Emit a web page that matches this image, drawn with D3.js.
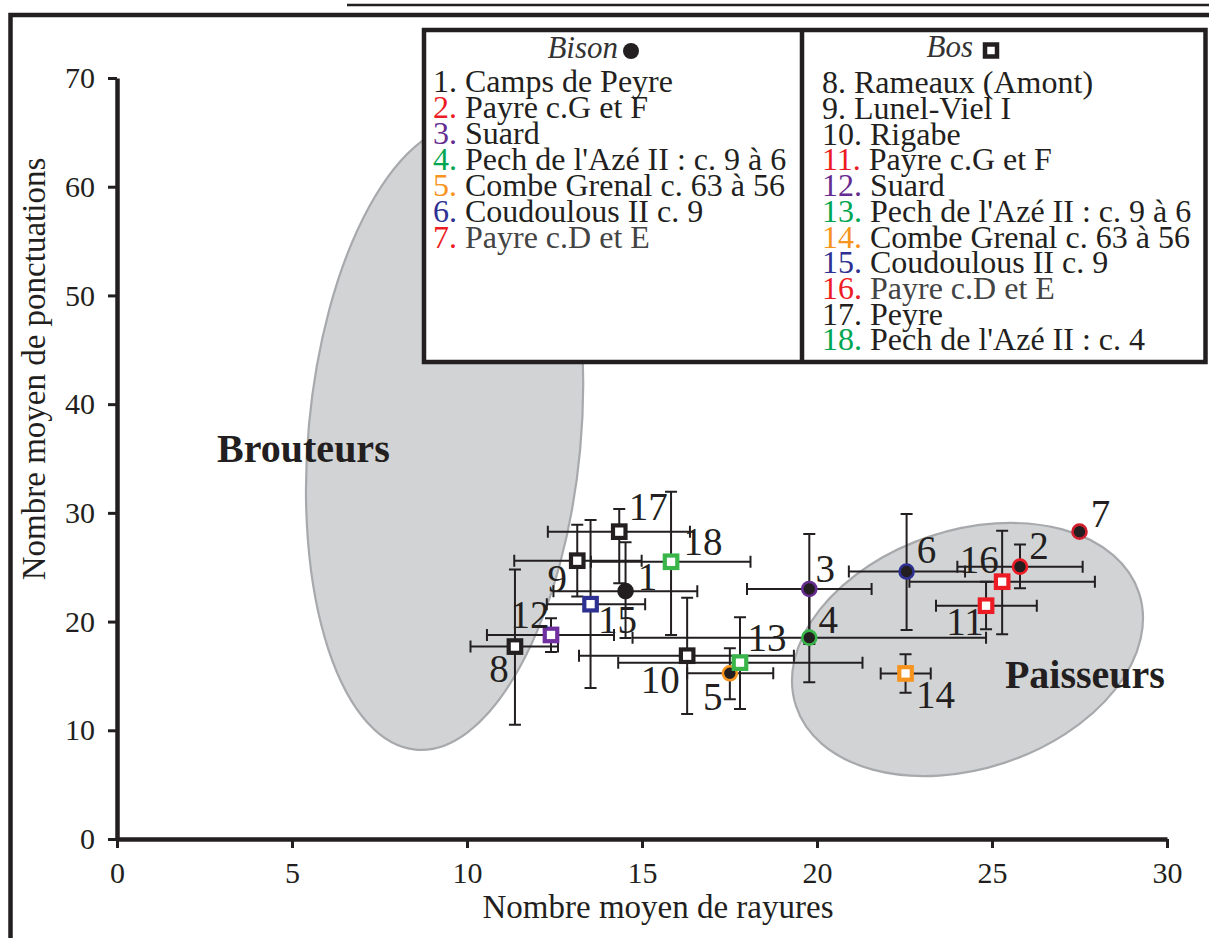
<!DOCTYPE html>
<html><head><meta charset="utf-8">
<script src="https://cdn.jsdelivr.net/npm/d3@7"></script>
<style>
body{margin:0;background:#fff;}
svg{display:block;}
text{font-family:"Liberation Serif","Times New Roman",serif;}
</style>
</head><body>
<svg id="chart" width="1209" height="938"></svg>
<script>
// ---------- DATA ----------
const ids   = [1,2,3,4,5,6,7,8,9,10,11,12,13,14,15,16,17,18];
const taxon = ["bison","bison","bison","bison","bison","bison","bison",
               "bos","bos","bos","bos","bos","bos","bos","bos","bos","bos","bos"];
const sites = ["Camps de Peyre","Payre c.G et F","Suard","Pech de l'Azé II : c. 9 à 6",
               "Combe Grenal c. 63 à 56","Coudoulous II c. 9","Payre c.D et E",
               "Rameaux (Amont)","Lunel-Viel I","Rigabe","Payre c.G et F","Suard",
               "Pech de l'Azé II : c. 9 à 6","Combe Grenal c. 63 à 56","Coudoulous II c. 9",
               "Payre c.D et E","Peyre","Pech de l'Azé II : c. 4"];
// mean number of scratches (x) and pits (y)
const meanRayures      = [14.53,25.80,19.78,19.78,17.51,22.56,27.50,11.37,13.15,16.29,24.83,12.40,17.80,22.53,13.53,25.29,14.35,15.83];
const meanPonctuations = [22.80,25.05,23.00,18.52,15.24,24.60,28.27,17.70,25.60,16.86,21.46,18.77,16.22,15.23,21.60,23.67,28.27,25.50];
// error bar extents
const rayuresLow   = [12.47,24.01,18.00,14.73,16.29,20.91,null,10.10,11.35,13.20,23.40,10.57,14.32,21.82,12.28,22.64,12.31,13.54];
const rayuresHigh  = [16.58,27.59,21.56,24.83,18.75,24.23,null,12.60,14.99,19.34,26.28,14.20,21.30,23.25,15.09,27.94,16.37,18.10];
const ponctLow     = [18.50,23.06,17.94,14.42,12.85,19.23,null,10.50,22.30,11.50,19.29,17.20,11.96,13.46,13.90,18.83,23.52,18.77];
const ponctHigh    = [27.30,27.10,28.06,22.62,17.55,29.90,null,24.80,28.90,22.20,23.67,20.30,20.40,17.00,29.35,28.36,30.36,31.95];
const xTicks = [0,5,10,15,20,25,30];
const yTicks = [0,10,20,30,40,50,60,70];
// diet zones (centre in data units, semi-axes in data units, rotation in degrees)
const zoneNames = ["Brouteurs","Paisseurs"];
const zoneCx  = [9.36, 24.30];
const zoneCy  = [37.00, 17.43];
const zoneRx  = [3.89, 5.16];
const zoneRy  = [28.90, 10.96];
const zoneRot = [5.28, -18.3];
const zoneLabelX = [2.86, 25.37];
const zoneLabelY = [34.68, 13.90];

// ---------- STYLE / LAYOUT ----------
const markerColor = ["#231f20","#ed1c24","#662d91","#39b54a","#f7941d","#2e3192","#d0202e",
                     "#231f20","#231f20","#231f20","#ed1c24","#7030a0","#39b54a","#f7941d","#2e3192","#ed1c24","#231f20","#39b54a"];
const legendNumColor = ["#231f20","#ed1c24","#662d91","#00a651","#f7941d","#2e3192","#ed1c24",
                     "#231f20","#231f20","#231f20","#ed1c24","#662d91","#00a651","#f7941d","#2e3192","#ed1c24","#231f20","#00a651"];
const nameColor = id => (id===7||id===16) ? "#444" : "#231f20";
// label offsets in px (centre x, baseline y) relative to marker
const labelDx = [22,19,16,19,-17,20,21,-16,-20,-27,-21,-21,27,30,27,-23,29,32];
const labelDy = [-1,-8,-7,-4.5,37,-8.5,-5,35,31,37.5,29,-7,-11.5,35,29,-8.5,-12,-7];

const ink = "#231f20";
const svg = d3.select("#chart");
const x = d3.scaleLinear().domain([0,30]).range([117,1167]);
const y = d3.scaleLinear().domain([0,70]).range([839,78]);

// outer frame
svg.append("path").attr("d","M10.5,938 V15 H1209").attr("fill","none").attr("stroke",ink).attr("stroke-width",4.5);
svg.append("line").attr("x1",347).attr("x2",1209).attr("y1",5).attr("y2",5).attr("stroke",ink).attr("stroke-width",2.5);

// zones
zoneNames.forEach((n,i)=>{
  const cx = x(zoneCx[i]), cy = y(zoneCy[i]);
  svg.append("ellipse")
    .attr("cx",cx).attr("cy",cy)
    .attr("rx",x(zoneCx[i]+zoneRx[i])-cx)
    .attr("ry",cy-y(zoneCy[i]+zoneRy[i]))
    .attr("transform",`rotate(${zoneRot[i]},${cx},${cy})`)
    .attr("fill","#d1d3d4").attr("stroke","#a7a9ac").attr("stroke-width",2.2);
  svg.append("text").attr("x",x(zoneLabelX[i])).attr("y",y(zoneLabelY[i]))
    .attr("font-size",40).attr("font-weight","bold").attr("fill",ink).text(n);
});

// axes
const ya = svg.append("g").attr("transform",`translate(${x(0)},0)`)
  .call(d3.axisLeft(y).tickValues(yTicks).tickSize(9).tickSizeOuter(0).tickPadding(13));
const xa = svg.append("g").attr("transform",`translate(0,${y(0)})`)
  .call(d3.axisBottom(x).tickValues(xTicks).tickSize(9).tickSizeOuter(0).tickPadding(14));
[ya,xa].forEach(g=>{
  g.select(".domain").attr("stroke",ink).attr("stroke-width",4.5);
  g.selectAll(".tick line").attr("stroke",ink).attr("stroke-width",3);
  g.selectAll(".tick text").attr("font-family","Liberation Serif, serif").attr("font-size",30).attr("fill",ink);
});
svg.append("text").attr("x",658).attr("y",918).attr("text-anchor","middle")
  .attr("font-size",33).attr("fill",ink).text("Nombre moyen de rayures");
svg.append("text").attr("transform","translate(45,369) rotate(-90)").attr("text-anchor","middle")
  .attr("font-size",33).attr("fill",ink).text("Nombre moyen de ponctuations");

// error bars
const eb = svg.append("g").attr("stroke",ink).attr("stroke-width",2).attr("fill","none");
const cap = 6;
ids.forEach((id,i)=>{
  if (rayuresLow[i]===null) return;
  const px = x(meanRayures[i]), py = y(meanPonctuations[i]);
  const x0 = x(rayuresLow[i]), x1 = x(rayuresHigh[i]);
  const y0 = y(ponctLow[i]), y1 = y(ponctHigh[i]);
  eb.append("path").attr("d",
    `M${x0},${py}H${x1}M${x0},${py-cap}V${py+cap}M${x1},${py-cap}V${py+cap}` +
    `M${px},${y0}V${y1}M${px-cap},${y0}H${px+cap}M${px-cap},${y1}H${px+cap}`);
});

// markers
ids.forEach((id,i)=>{
  const px = x(meanRayures[i]), py = y(meanPonctuations[i]);
  if (taxon[i]==="bison") {
    svg.append("circle").attr("cx",px).attr("cy",py).attr("r",7)
      .attr("fill",ink).attr("stroke",markerColor[i]).attr("stroke-width",2.6);
  } else {
    const s = 12.5;
    svg.append("rect").attr("x",px-s/2).attr("y",py-s/2).attr("width",s).attr("height",s)
      .attr("fill","#fff").attr("stroke",markerColor[i]).attr("stroke-width",4.2);
  }
});

// point labels
ids.forEach((id,i)=>{
  svg.append("text").attr("x",x(meanRayures[i])+labelDx[i]).attr("y",y(meanPonctuations[i])+labelDy[i])
    .attr("text-anchor","middle").attr("font-size",39).attr("fill",ink).text(id);
});

// legend
const lg = svg.append("g");
lg.append("rect").attr("x",424).attr("y",30).attr("width",781.5).attr("height",332)
  .attr("fill","#fff").attr("stroke",ink).attr("stroke-width",4.5);
lg.append("line").attr("x1",802).attr("x2",802).attr("y1",30).attr("y2",362).attr("stroke",ink).attr("stroke-width",4.5);
lg.append("text").attr("x",618).attr("y",58).attr("text-anchor","end").attr("font-size",31)
  .attr("font-style","italic").attr("fill","#333").text("Bison");
lg.append("circle").attr("cx",631).attr("cy",51).attr("r",8).attr("fill",ink);
lg.append("text").attr("x",973).attr("y",57).attr("text-anchor","end").attr("font-size",31)
  .attr("font-style","italic").attr("fill","#333").text("Bos");
lg.append("rect").attr("x",985).attr("y",44.5).attr("width",12).attr("height",12)
  .attr("fill","#fff").attr("stroke",ink).attr("stroke-width",4.5);

let bi = 0, oi = 0;
ids.forEach((id,i)=>{
  let tx, ty;
  if (taxon[i]==="bison") { tx = 433; ty = 91.7 + bi*26.1; bi++; }
  else { tx = 822; ty = 93.3 + oi*25.7; oi++; }
  const t = lg.append("text").attr("x",tx).attr("y",ty).attr("font-size",32);
  t.append("tspan").attr("fill",legendNumColor[i]).text(id + ". ");
  t.append("tspan").attr("fill",nameColor(id)).text(sites[i]);
});
</script>
</body></html>
